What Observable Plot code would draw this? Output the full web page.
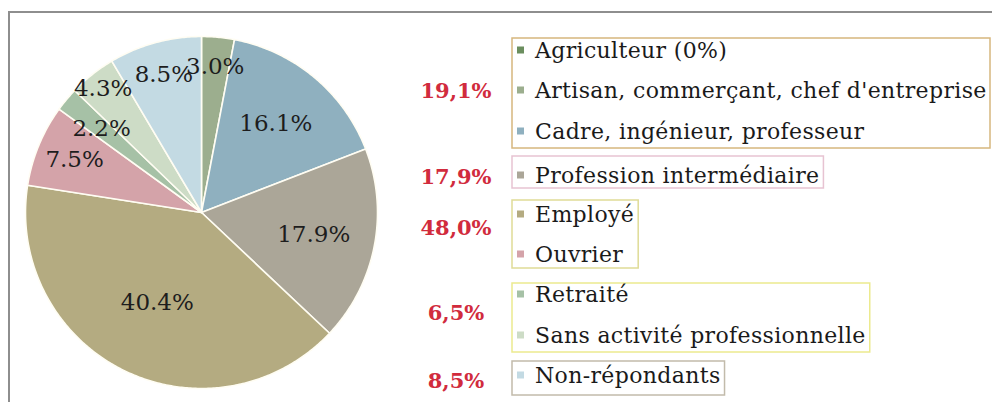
<!DOCTYPE html>
<html>
<head>
<meta charset="utf-8">
<script src="https://cdn.jsdelivr.net/npm/d3@7"></script>
<script src="https://cdn.jsdelivr.net/npm/@observablehq/plot@0.6"></script>
<style>
  html, body { margin: 0; padding: 0; background: #ffffff; }
  #chart { position: relative; width: 992px; height: 402px; overflow: hidden; background: #ffffff; font-family: 'DejaVu Serif', 'Liberation Serif', serif; }
  #frame { position: absolute; left: 8px; top: 11px; right: -20px; bottom: -20px; border-top: 2px solid #8e8e8e; border-left: 2px solid #8e8e8e; }
  #pie, #legend { position: absolute; left: 0; top: 0; }
  #chart text { font-family: 'DejaVu Serif', 'Liberation Serif', serif; }
</style>
</head>
<body>
<div id="chart"><div id="frame"></div></div>
<script>
// ---- data ----
const categories = [
  "Agriculteur (0%)",
  "Artisan, commerçant, chef d'entreprise",
  "Cadre, ingénieur, professeur",
  "Profession intermédiaire",
  "Employé",
  "Ouvrier",
  "Retraité",
  "Sans activité professionnelle",
  "Non-répondants"
];
const values = [0, 3.0, 16.1, 17.9, 40.4, 7.5, 2.2, 4.3, 8.5];
const colors = ["#6b8e5e", "#9cae8e", "#8fb0bf", "#aba698", "#b4ab81", "#d4a3a9", "#a6c1a6", "#cddcc6", "#c3dae3"];
const groupMembers = [[0, 1, 2], [3], [4, 5], [6, 7], [8]];
const groupTotals = ["19,1%", "17,9%", "48,0%", "6,5%", "8,5%"];

// ---- layout / style (not data) ----
const FONT = "'DejaVu Serif', 'Liberation Serif', serif";
const groupBorders = ["#d6b77e", "#e7c3d2", "#dfdb96", "#ecea8e", "#c2bbab"];
const labelRadius = [0, 0.83, 0.66, 0.65, 0.57, 0.78, 0.74, 0.9, 0.81];
const boxTop = [38, 156, 200, 283, 361];
const boxBottom = [148, 188, 268, 352, 395];
const rowBaselines = [[58, 98, 139], [183], [222, 262], [302, 343], [383]];
const totalBaselines = [98, 184, 235, 320, 388];

const rows = categories.map((c, i) => ({cat: c, value: values[i], i}));
const arcs = d3.pie().sort(null).value(d => d.value).startAngle(0).endAngle(2 * Math.PI)(rows)
  .filter(a => a.data.value > 0);

const pts = [];
for (const a of arcs) {
  const k = a.data.cat;
  const n = Math.max(2, Math.ceil((a.endAngle - a.startAngle) / 0.01));
  pts.push({k, x: 0, y: 0});
  for (let j = 0; j <= n; j++) {
    const t = a.startAngle + (a.endAngle - a.startAngle) * j / n;
    pts.push({k, x: Math.sin(t), y: Math.cos(t)});
  }
  pts.push({k, x: 0, y: 0});
}
const labels = arcs.map(a => {
  const m = (a.startAngle + a.endAngle) / 2;
  const r = labelRadius[a.data.i];
  return {x: r * Math.sin(m), y: r * Math.cos(m), text: a.data.value.toFixed(1) + "%"};
});

const pie = Plot.plot({
  width: 400, height: 402,
  marginLeft: 25, marginRight: 23, marginTop: 36, marginBottom: 14,
  x: {domain: [-1, 1], axis: null},
  y: {domain: [-1, 1], axis: null},
  color: {domain: categories, range: colors},
  style: {background: "transparent", fontFamily: FONT},
  marks: [
    Plot.line(pts, {x: "x", y: "y", z: "k", fill: "k", stroke: "#fffdf3", strokeWidth: 1.6, curve: "linear"}),
    Plot.text(labels, {x: "x", y: "y", text: "text", fontSize: 23, fill: "#1d1d1d", fontFamily: FONT})
  ]
});
pie.id = "pie";
document.getElementById("chart").appendChild(pie);

// ---- legend ----
const svg = d3.create("svg").attr("id", "legend").attr("width", 992).attr("height", 402)
  .style("font-family", FONT);
document.getElementById("chart").appendChild(svg.node());

const boxLeft = 512, textX = 535, swatchX = 517, swatch = 7;
groupMembers.forEach((members, gi) => {
  const g = svg.append("g");
  const rect = g.append("rect")
    .attr("x", boxLeft).attr("y", boxTop[gi])
    .attr("height", boxBottom[gi] - boxTop[gi])
    .attr("fill", "none").attr("stroke", groupBorders[gi]).attr("stroke-width", 1.5);
  let maxRight = 0;
  members.forEach((ci, ri) => {
    const yb = rowBaselines[gi][ri];
    g.append("rect").attr("x", swatchX).attr("y", yb - 8 - swatch / 2)
      .attr("width", swatch).attr("height", swatch).attr("fill", colors[ci]);
    const t = g.append("text").attr("x", textX).attr("y", yb)
      .style("font-family", FONT)
      .attr("font-size", 22).attr("letter-spacing", 0.35).attr("fill", "#1a1a1a")
      .text(categories[ci]);
    maxRight = Math.max(maxRight, textX + t.node().getComputedTextLength());
  });
  rect.attr("width", Math.min(maxRight + 4, 990) - boxLeft);
  g.append("text").attr("x", 456).attr("y", totalBaselines[gi])
    .style("font-family", FONT)
    .attr("text-anchor", "middle").attr("font-size", 21).attr("font-weight", "bold")
    .attr("fill", "#d12b3d").text(groupTotals[gi]);
});
</script>
</body>
</html>
